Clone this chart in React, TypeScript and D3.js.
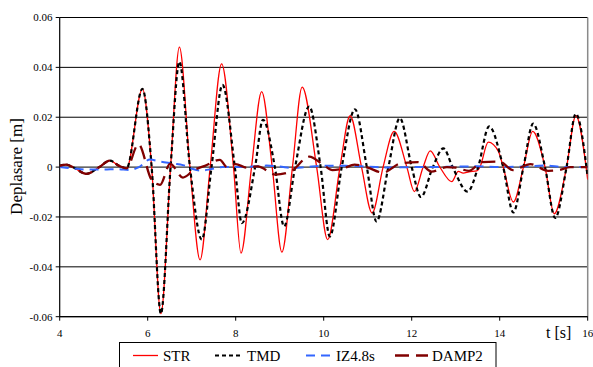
import React from "react";
import * as d3 from "d3";

// ---------- data ----------
const X_TICKS = [4, 6, 8, 10, 12, 14, 16];
const Y_TICKS = [-0.06, -0.04, -0.02, 0, 0.02, 0.04, 0.06];
const Y_TICK_LABELS = ["-0.06", "-0.04", "-0.02", "0", "0.02", "0.04", "0.06"];
const SERIES_NAMES = ["STR", "TMD", "IZ4.8s", "DAMP2"];

const T_STR = [4.0, 4.15, 4.3, 4.61, 4.9, 5.14, 5.35, 5.52, 5.88, 6.09, 6.3, 6.52, 6.72, 6.96, 7.19, 7.42, 7.68, 7.95, 8.12, 8.36, 8.59, 8.83, 9.05, 9.29, 9.51, 9.84, 10.09, 10.37, 10.6, 10.86, 11.1, 11.35, 11.6, 11.89, 12.06, 12.26, 12.42, 12.64, 12.91, 13.06, 13.17, 13.3, 13.48, 13.55, 13.74, 13.97, 14.08, 14.31, 14.54, 14.75, 15.03, 15.24, 15.52, 15.73, 16.0];
const V_STR = [0.0005, 0.001, 0.0, -0.0027, 0.0, 0.0026, 0.0005, -0.0005, 0.0314, 0.0, -0.0588, 0.0, 0.0481, 0.0, -0.0372, 0.0, 0.0414, 0.0, -0.0345, 0.0, 0.0303, 0.0, -0.0341, 0.0, 0.0321, 0.0, -0.0291, 0.0, 0.0206, 0.0, -0.0184, 0.0, 0.0143, 0.0, -0.0098, 0.0, 0.0065, 0.0, -0.0058, -0.0017, -0.0024, -0.0019, -0.0015, 0.0, 0.01, 0.0063, 0.0, -0.014, 0.0, 0.0143, 0.0, -0.0187, 0.0, 0.0206, -0.005];

const T_TMD = [4.0, 4.15, 4.3, 4.61, 4.9, 5.14, 5.35, 5.52, 5.88, 6.09, 6.3, 6.52, 6.72, 6.96, 7.23, 7.45, 7.7, 7.98, 8.14, 8.44, 8.62, 8.89, 9.1, 9.35, 9.67, 9.93, 10.14, 10.41, 10.71, 10.98, 11.2, 11.47, 11.73, 12.0, 12.21, 12.48, 12.72, 12.93, 13.27, 13.51, 13.76, 14.08, 14.31, 14.54, 14.76, 15.03, 15.26, 15.52, 15.73, 16.0];
const V_TMD = [0.0005, 0.001, 0.0, -0.0027, 0.0, 0.0026, 0.0005, -0.0005, 0.0314, 0.0, -0.0588, 0.0, 0.0423, 0.0, -0.0291, 0.0, 0.033, 0.0, -0.0225, 0.0, 0.019, 0.0, -0.0238, 0.0, 0.0243, 0.0, -0.0278, 0.0, 0.0232, 0.0, -0.0218, 0.0, 0.0196, 0.0, -0.012, 0.0, 0.0075, 0.0, -0.0098, 0.0, 0.0163, 0.0, -0.0182, 0.0, 0.0174, 0.0, -0.0204, 0.0, 0.0214, -0.004];

const T_IZ = [4.0, 4.3, 4.6, 5.0, 5.3, 5.6, 5.8, 6.05, 6.3, 6.6, 6.8, 7.0, 7.2, 7.45, 7.7, 8.0, 8.3, 8.7, 9.0, 9.3, 9.6, 10.0, 10.5, 11.0, 11.5, 12.0, 12.5, 13.0, 13.5, 14.0, 14.5, 15.0, 15.5, 16.0];
const V_IZ = [0.0, -0.0005, -0.001, -0.001, -0.0008, -0.0012, 0.0, 0.003, 0.0022, 0.0014, 0.0008, -0.0006, -0.0014, -0.0008, 0.0, 0.0, 0.0001, 0.0006, 0.0002, -0.0004, 0.0, 0.0005, 0.0005, 0.0002, -0.0002, 0.0, 0.0, 0.0002, 0.0003, 0.0, 0.0002, 0.0006, 0.0, 0.0];

const T_DAMP = [4.0, 4.15, 4.3, 4.61, 4.9, 5.14, 5.35, 5.52, 5.79, 6.09, 6.28, 6.51, 6.8, 7.05, 7.3, 7.64, 7.8, 8.0, 8.25, 8.5, 8.9, 9.25, 9.67, 10.0, 10.2, 10.45, 10.7, 11.0, 11.35, 11.75, 12.15, 12.45, 12.8, 13.0, 13.3, 13.6, 14.0, 14.3, 14.7, 15.1, 15.35, 15.6, 16.0];
const V_DAMP = [0.0005, 0.001, 0.0, -0.0027, 0.0, 0.0026, 0.0005, -0.0005, 0.0092, -0.0051, -0.0071, 0.0013, -0.0042, -0.0012, 0.0005, 0.0029, 0.0, 0.0012, -0.0002, 0.0003, -0.003, -0.0018, 0.0042, 0.0008, -0.0012, -0.0005, 0.001, -0.0002, -0.0022, 0.0015, 0.002, -0.0018, 0.0, -0.0002, -0.0015, 0.002, 0.0022, -0.0012, 0.0012, -0.0015, -0.0012, 0.0, 0.0];

// ---------- component ----------
export default function App() {
  const W = 593;
  const H = 367;
  const x = d3.scaleLinear().domain([4, 16]).range([59.7, 587.7]);
  const y = d3.scaleLinear().domain([-0.06, 0.06]).range([316.7, 17.5]);

  const line = d3
    .line<[number, number]>()
    .x((d) => x(d[0]))
    .y((d) => y(d[1]))
    .curve(d3.curveMonotoneX);

  const zip = (t: number[], v: number[]) => t.map((ti, i) => [ti, v[i]] as [number, number]);

  const series = [
    { name: SERIES_NAMES[0], d: zip(T_STR, V_STR), color: "#ff0000", width: 1.3, dash: "none" },
    { name: SERIES_NAMES[1], d: zip(T_TMD, V_TMD), color: "#000000", width: 2.2, dash: "4,3" },
    { name: SERIES_NAMES[2], d: zip(T_IZ, V_IZ), color: "#3366ff", width: 2, dash: "9,6" },
    { name: SERIES_NAMES[3], d: zip(T_DAMP, V_DAMP), color: "#800000", width: 2.3, dash: "14,7" },
  ];

  const [x0, x1] = x.range();
  const yTop = y(0.06);
  const yBot = y(-0.06);

  const legendItems = [
    { lx: 133, tx: 163 },
    { lx: 215, tx: 247 },
    { lx: 306, tx: 336 },
    { lx: 395, tx: 432 },
  ];
  const legendLineLen = [25, 25, 24, 33];

  const fontStyle = { fontFamily: "'Liberation Serif', 'DejaVu Serif', 'Times New Roman', serif" };

  return (
    <svg
      width={W}
      height={H}
      style={{ position: "absolute", left: 0, top: 0, background: "#fff" }}
    >
      <defs>
        <clipPath id="plotClip">
          <rect x={x0} y={yTop - 2} width={x1 - x0} height={yBot - yTop + 4} />
        </clipPath>
      </defs>
      <rect x={0} y={0} width={W} height={H} fill="#fff" />

      {/* gridlines */}
      {Y_TICKS.map((v) => (
        <line key={"g" + v} x1={x0} x2={x1} y1={y(v)} y2={y(v)} stroke="#000" strokeWidth={1} />
      ))}
      {/* right border */}
      <line x1={x1} x2={x1} y1={yTop} y2={yBot} stroke="#8a8a8a" strokeWidth={1.5} />

      {/* left axis */}
      <line x1={x0} x2={x0} y1={yTop} y2={yBot} stroke="#000" strokeWidth={1.2} />
      {Y_TICKS.map((v) => (
        <line key={"yt" + v} x1={x0 - 4} x2={x0} y1={y(v)} y2={y(v)} stroke="#000" strokeWidth={1} />
      ))}
      {Y_TICKS.map((v, i) => (
        <text key={"yl" + v} x={52.5} y={y(v)} dy="0.35em" textAnchor="end" fontSize={11} fill="#000" style={fontStyle}>
          {Y_TICK_LABELS[i]}
        </text>
      ))}

      {/* bottom axis */}
      <line x1={x0} x2={x1} y1={yBot} y2={yBot} stroke="#000" strokeWidth={1.2} />
      {X_TICKS.map((v) => (
        <line key={"xt" + v} x1={x(v)} x2={x(v)} y1={yBot} y2={yBot + 4} stroke="#000" strokeWidth={1} />
      ))}
      {X_TICKS.map((v) => (
        <text key={"xl" + v} x={x(v)} y={337} textAnchor="middle" fontSize={11} fill="#000" style={fontStyle}>
          {String(v)}
        </text>
      ))}

      {/* series */}
      <g clipPath="url(#plotClip)">
        {series.map((s) => (
          <path
            key={s.name}
            d={line(s.d) || ""}
            fill="none"
            stroke={s.color}
            strokeWidth={s.width}
            strokeDasharray={s.dash}
          />
        ))}
      </g>

      {/* axis titles */}
      <text x={546} y={337.5} fontSize={16} fill="#000" style={fontStyle}>
        t [s]
      </text>
      <text
        transform="translate(22,166.5) rotate(-90)"
        textAnchor="middle"
        fontSize={17}
        fill="#000"
        style={fontStyle}
      >
        Deplasare [m]
      </text>

      {/* legend */}
      <rect x={119.5} y={342.5} width={376.5} height={40} fill="#fff" stroke="#000" strokeWidth={1} />
      {series.map((s, i) => (
        <g key={"lg" + s.name}>
          <line
            x1={legendItems[i].lx}
            x2={legendItems[i].lx + legendLineLen[i]}
            y1={355.5}
            y2={355.5}
            stroke={s.color}
            strokeWidth={s.width}
            strokeDasharray={s.dash}
          />
          <text x={legendItems[i].tx} y={361} fontSize={15} fill="#000" style={fontStyle}>
            {s.name}
          </text>
        </g>
      ))}
    </svg>
  );
}
